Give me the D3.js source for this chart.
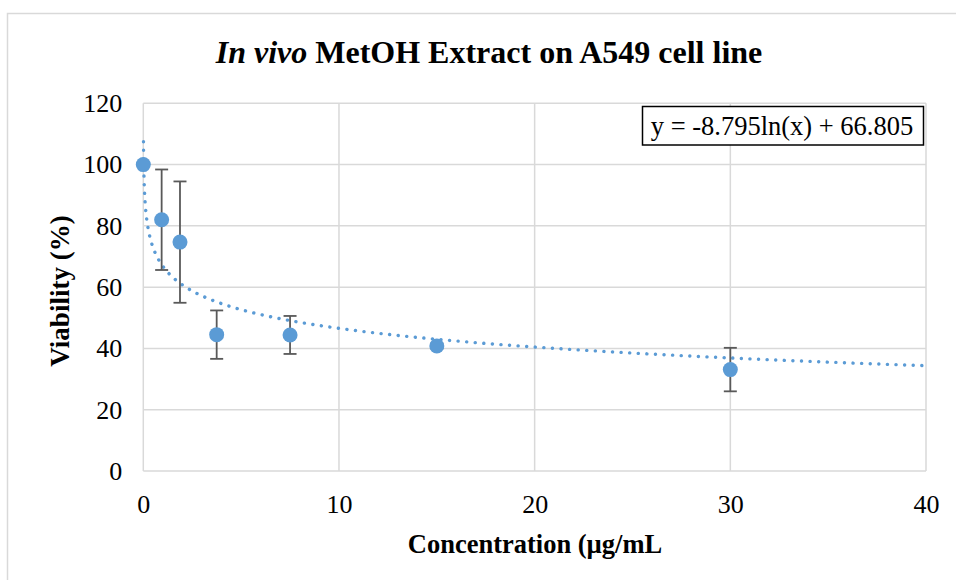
<!DOCTYPE html>
<html><head><meta charset="utf-8">
<script src="https://cdn.jsdelivr.net/npm/d3@7"></script>
<style>body{margin:0;background:#fff}svg{display:block}svg text{font-family:"Liberation Serif","Times New Roman",serif !important;}</style>
</head><body><svg id="c" width="956" height="580"></svg>
<script>
const concentrations = [0, 0.9375, 1.875, 3.75, 7.5, 15, 30];
const viability = [100, 82.0, 74.7, 44.5, 44.4, 40.8, 33.1];
const errors = [0, 16.4, 19.8, 7.9, 6.2, 0.8, 7.1];
const xTicks = [0, 10, 20, 30, 40];
const yTicks = [0, 20, 40, 60, 80, 100, 120];
const trendA = -8.795, trendB = 66.805;
const trendRange = [0.0098, 40];

const FONT = '"Liberation Serif","Times New Roman",serif';
const svg = d3.select("#c");
const W = 956, H = 580;
const m = {l:143.3, r:956-926, t:103.3, b:580-471};
const x = d3.scaleLinear().domain([0,40]).range([m.l, W-m.r]);
const y = d3.scaleLinear().domain([0,120]).range([H-m.b, m.t]);

// chart frame
svg.append("rect").attr("x",7.5).attr("y",13.5).attr("width",960).attr("height",600)
  .attr("fill","none").attr("stroke","#d9d9d9").attr("stroke-width",1.5);

// grid
const grid = svg.append("g");
grid.selectAll(".gx").data(xTicks).join("line")
  .attr("x1",d=>x(d)).attr("x2",d=>x(d)).attr("y1",y(0)).attr("y2",y(120))
  .attr("stroke","#d9d9d9").attr("stroke-width",1.5);
grid.selectAll(".gy").data(yTicks).join("line")
  .attr("y1",d=>y(d)).attr("y2",d=>y(d)).attr("x1",x(0)).attr("x2",x(40))
  .attr("stroke","#d9d9d9").attr("stroke-width",1.5);

// axes labels
const xa = svg.append("g").attr("transform",`translate(0,${y(0)})`)
  .call(d3.axisBottom(x).tickValues(xTicks).tickSize(0).tickPadding(24));
xa.attr("font-family",FONT).select(".domain").remove();
xa.selectAll("text").attr("font-size",26).attr("fill","#000").style("font-family",FONT);
const ya = svg.append("g").attr("transform",`translate(${x(0)},0)`)
  .call(d3.axisLeft(y).tickValues(yTicks).tickSize(0).tickPadding(21));
ya.attr("font-family",FONT).select(".domain").remove();
ya.selectAll("text").attr("font-size",26).attr("fill","#000").style("font-family",FONT);

// trendline
const tx = d3.range(0,401).map(i=>trendRange[0]*Math.pow(trendRange[1]/trendRange[0], i/400));
const line = d3.line().x(d=>x(d)).y(d=>y(trendA*Math.log(d)+trendB));
svg.append("path").datum(tx).attr("d",line).attr("fill","none")
  .attr("stroke","#5b9bd5").attr("stroke-width",3.4).attr("stroke-linecap","round")
  .attr("stroke-dasharray","0.1 8.5");

// error bars
const pts = concentrations.map((c,i)=>({c, v:viability[i], e:errors[i]}));
const eb = svg.append("g").attr("stroke","#595959").attr("stroke-width",1.8);
pts.filter(d=>d.e>0).forEach(d=>{
  eb.append("line").attr("x1",x(d.c)).attr("x2",x(d.c)).attr("y1",y(d.v-d.e)).attr("y2",y(d.v+d.e));
  [d.v-d.e, d.v+d.e].forEach(v=>eb.append("line").attr("x1",x(d.c)-6.5).attr("x2",x(d.c)+6.5).attr("y1",y(v)).attr("y2",y(v)));
});

// markers
svg.append("g").selectAll("circle").data(pts).join("circle")
  .attr("cx",d=>x(d.c)).attr("cy",d=>y(d.v)).attr("r",7.5).attr("fill","#5b9bd5");

// equation box
const eq = svg.append("g");
eq.append("rect").attr("x",642.5).attr("y",106.5).attr("width",281).attr("height",38.5)
  .attr("fill","#fff").attr("stroke","#000").attr("stroke-width",1.5);
eq.append("text").attr("x",782).attr("y",135).attr("text-anchor","middle")
  .attr("font-size",26.5).style("font-family",FONT).text("y = -8.795ln(x) + 66.805");

// title
const t = svg.append("text").attr("x",489).attr("y",62.5).attr("text-anchor","middle")
  .attr("font-size",32).attr("font-weight","bold").style("font-family",FONT);
t.append("tspan").attr("font-style","italic").text("In vivo");
t.append("tspan").text(" MetOH Extract on A549 cell line");

// axis titles
svg.append("text").attr("x",535).attr("y",553).attr("text-anchor","middle")
  .attr("font-size",26.5).attr("font-weight","bold").style("font-family",FONT).text("Concentration (µg/mL");
svg.append("text").attr("transform","translate(69,291) rotate(-90)").attr("text-anchor","middle")
  .attr("font-size",27).attr("font-weight","bold").style("font-family",FONT).text("Viability (%)");
</script></body></html>
